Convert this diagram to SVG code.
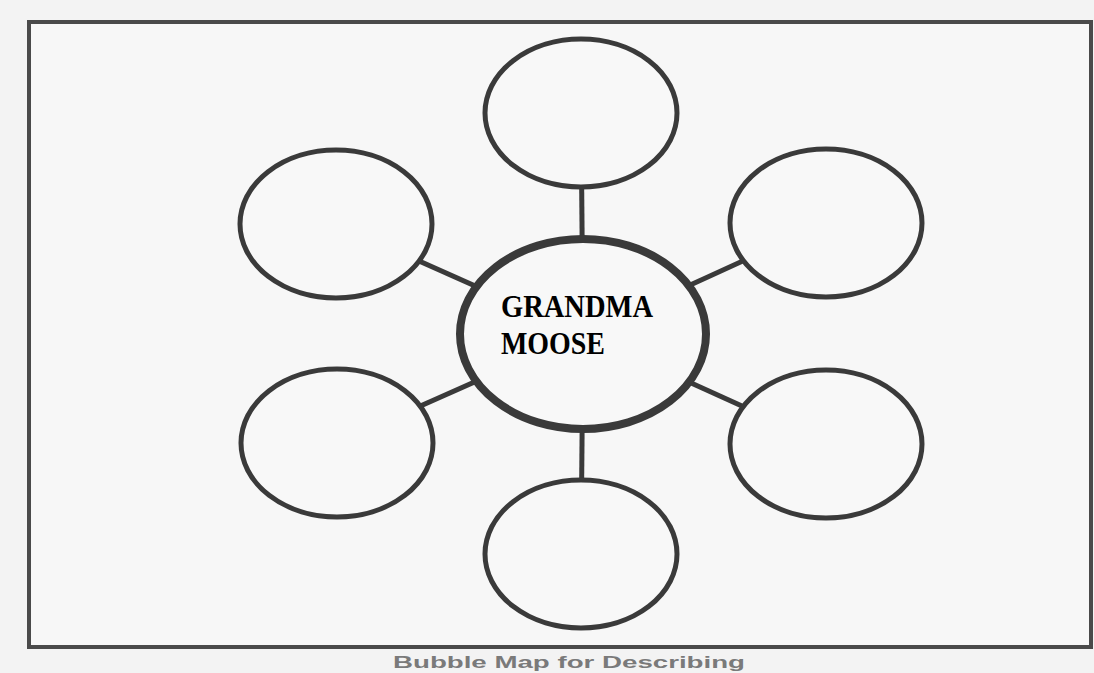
<svg xmlns="http://www.w3.org/2000/svg" width="1094" height="673" viewBox="0 0 1094 673">
<style>
.bg{fill:#f3f3f3}
.frame{fill:#f7f7f7;stroke:#4a4a4a;stroke-width:4}
.bubble{fill:#f8f8f8;stroke:#3a3a3a;stroke-width:5}
.core{fill:#f8f8f8;stroke:#3a3a3a;stroke-width:8}
.conn{stroke:#3a3a3a;stroke-width:5;fill:none}
.lbl{font-family:"Liberation Serif","DejaVu Serif",serif;font-weight:bold;font-size:31px;fill:#000}
.cap{font-family:"Liberation Sans",Arial,sans-serif;font-weight:bold;font-size:16px;fill:#7a7a7a}
</style>
<rect class="bg" x="0" y="0" width="1094" height="673"/>
<rect class="frame" x="29" y="22" width="1062" height="625"/>
<g id="connectors">
<line class="conn" x1="583" y1="334" x2="581" y2="113"/>
<line class="conn" x1="583" y1="334" x2="336" y2="224"/>
<line class="conn" x1="583" y1="334" x2="826" y2="223"/>
<line class="conn" x1="583" y1="334" x2="337" y2="443"/>
<line class="conn" x1="583" y1="334" x2="826" y2="444"/>
<line class="conn" x1="583" y1="334" x2="581" y2="554"/>
</g>
<g id="node-top"><ellipse class="bubble" cx="581" cy="113" rx="96" ry="74"/></g>
<g id="node-upper-left"><ellipse class="bubble" cx="336" cy="224" rx="96" ry="74"/></g>
<g id="node-upper-right"><ellipse class="bubble" cx="826" cy="223" rx="96" ry="74"/></g>
<g id="node-lower-left"><ellipse class="bubble" cx="337" cy="443" rx="96" ry="74"/></g>
<g id="node-lower-right"><ellipse class="bubble" cx="826" cy="444" rx="96" ry="74"/></g>
<g id="node-bottom"><ellipse class="bubble" cx="581" cy="554" rx="96" ry="74"/></g>
<g id="node-center">
<ellipse class="core" cx="583" cy="334" rx="123" ry="95"/>
<text class="lbl" x="501" y="317" textLength="152" lengthAdjust="spacingAndGlyphs">GRANDMA</text>
<text class="lbl" x="501" y="354" textLength="104" lengthAdjust="spacingAndGlyphs">MOOSE</text>
</g>
<text class="cap" x="393" y="668" textLength="352" lengthAdjust="spacingAndGlyphs">Bubble Map for Describing</text>
</svg>
